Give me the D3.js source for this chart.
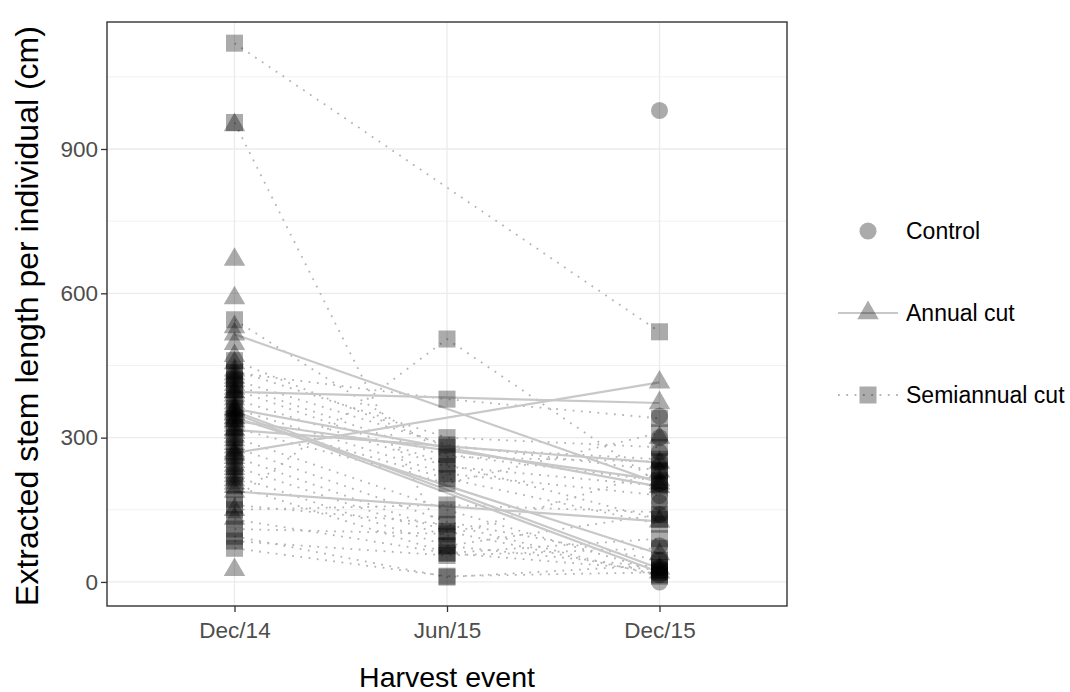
<!DOCTYPE html>
<html>
<head>
<meta charset="utf-8">
<script src="https://cdn.jsdelivr.net/npm/d3@7"></script>
<style>
  body { margin: 0; background: #fff; }
  text { font-family: "Liberation Sans", Arial, sans-serif; }
</style>
</head>
<body>
<div class="canvas"></div>
<script>
// harvest events (x categories)
const events = ["Dec/14", "Jun/15", "Dec/15"];
const yTicks = [0, 300, 600, 900];
const yMinor = [150, 450, 750, 1050];
const groups = ["Control", "Annual cut", "Semiannual cut"];

// annual cut individuals measured at both harvests: [Dec/14, Dec/15]
const annualDec14 = [515, 395, 268, 355, 350, 342, 316, 335, 188, 360];
const annualDec15 = [205, 372, 415, 28, 20, 58, 248, 212, 126, 198];
// annual cut individuals with only a Dec/14 value
const annualOnlyDec14 = [950, 670, 590, 530, 495, 470, 455, 440, 432, 425, 418, 410, 402, 395,
  388, 380, 372, 365, 358, 348, 340, 332, 325, 318, 310, 302, 295, 287, 280, 272, 265, 258,
  250, 242, 235, 228, 220, 212, 205, 198, 150, 132, 25];
// extra annual Dec/15 values without a Dec/14 record
const annualOnlyDec15 = [300, 230];

// semiannual cut individuals (null = not recorded)
const semiDec14 = [1120, 955, 172, 435, 440, 420, 410, 400, 380, 360, 340, 320, 300, 280, 260,
  240, 220, 200, 160, 130, 95, 70, 545, 460, 110, 85, 150];
const semiJun15 = [null, 75, 505, 380, 300, 285, 260, 245, 240, 225, 215, 205, 150, 125, 105,
  95, 75, 60, 120, 60, 10, 12, 265, 280, 100, 55, 160];
const semiDec15 = [520, 30, 205, 340, 280, 232, 250, 130, 200, 180, 120, 310, 22, 45, 15,
  230, 140, 25, 12, 90, 35, 20, 210, 255, null, 70, 145];

// control individuals, harvested only at Dec/15
const controlDec15 = [980, 345, 300, 270, 250, 230, 205, 180, 165, 140, 75, 45, 30, 15, 0];

const W = 1070, H = 692;
const panel = { left: 107, right: 787, top: 22, bottom: 606 };

const svg = d3.select(".canvas").append("svg")
  .attr("width", W).attr("height", H);

const x = d3.scalePoint()
  .domain(events)
  .range([panel.left, panel.right])
  .padding(0.6);

const y = d3.scaleLinear()
  .domain([-50, 1164])
  .range([panel.bottom, panel.top]);

// grid
const grid = svg.append("g");
grid.selectAll(".minor").data(yMinor).join("line")
  .attr("x1", panel.left).attr("x2", panel.right)
  .attr("y1", d => y(d)).attr("y2", d => y(d))
  .attr("stroke", "#ebebeb").attr("stroke-width", 0.7);
grid.selectAll(".major").data(yTicks).join("line")
  .attr("x1", panel.left).attr("x2", panel.right)
  .attr("y1", d => y(d)).attr("y2", d => y(d))
  .attr("stroke", "#ebebeb").attr("stroke-width", 1.3);
grid.selectAll(".vx").data(events).join("line")
  .attr("x1", d => x(d)).attr("x2", d => x(d))
  .attr("y1", panel.top).attr("y2", panel.bottom)
  .attr("stroke", "#ebebeb").attr("stroke-width", 1.3);

// lines
const line = d3.line()
  .x(d => x(d.e))
  .y(d => y(d.v));

const annualPaths = annualDec14.map((v, i) => [
  { e: "Dec/14", v: v }, { e: "Dec/15", v: annualDec15[i] }
]);
const semiPaths = semiDec14.map((v, i) => {
  const p = [{ e: "Dec/14", v: v }, { e: "Jun/15", v: semiJun15[i] }, { e: "Dec/15", v: semiDec15[i] }];
  return p.filter(d => d.v != null);
});

svg.append("g").selectAll("path").data(semiPaths).join("path")
  .attr("d", line)
  .attr("fill", "none")
  .attr("stroke", "#b4b4b4")
  .attr("stroke-width", 1.8)
  .attr("stroke-dasharray", "1.8,6.5");

svg.append("g").selectAll("path").data(annualPaths).join("path")
  .attr("d", line)
  .attr("fill", "none")
  .attr("stroke", "#c8c8c8")
  .attr("stroke-width", 2.2);

// points
const pts = [];
annualDec14.forEach(v => pts.push({ g: "Annual cut", e: "Dec/14", v }));
annualDec15.forEach(v => pts.push({ g: "Annual cut", e: "Dec/15", v }));
annualOnlyDec14.forEach(v => pts.push({ g: "Annual cut", e: "Dec/14", v }));
annualOnlyDec15.forEach(v => pts.push({ g: "Annual cut", e: "Dec/15", v }));
semiDec14.forEach(v => pts.push({ g: "Semiannual cut", e: "Dec/14", v }));
semiJun15.forEach(v => { if (v != null) pts.push({ g: "Semiannual cut", e: "Jun/15", v }); });
semiDec15.forEach(v => { if (v != null) pts.push({ g: "Semiannual cut", e: "Dec/15", v }); });
controlDec15.forEach(v => pts.push({ g: "Control", e: "Dec/15", v }));

const shapes = {
  "Control": d3.symbol(d3.symbolCircle, 230),
  "Annual cut": d3.symbol(d3.symbolTriangle, 200),
  "Semiannual cut": d3.symbol(d3.symbolSquare, 290)
};

svg.append("g").selectAll("path").data(pts).join("path")
  .attr("transform", d => `translate(${x(d.e)},${y(d.v)})`)
  .attr("d", d => shapes[d.g]())
  .attr("fill", "#000")
  .attr("fill-opacity", 0.33);

// panel border
svg.append("rect")
  .attr("x", panel.left).attr("y", panel.top)
  .attr("width", panel.right - panel.left).attr("height", panel.bottom - panel.top)
  .attr("fill", "none").attr("stroke", "#333").attr("stroke-width", 1.4);

// axes
const gx = svg.append("g")
  .attr("transform", `translate(0,${panel.bottom})`)
  .call(d3.axisBottom(x).tickSize(6).tickPadding(10));
const gy = svg.append("g")
  .attr("transform", `translate(${panel.left},0)`)
  .call(d3.axisLeft(y).tickValues(yTicks).tickSize(6).tickPadding(3));
[gx, gy].forEach(g => {
  g.select(".domain").remove();
  g.selectAll(".tick line").attr("stroke", "#333").attr("stroke-width", 1.3);
  g.selectAll(".tick text")
    .attr("fill", "#4d4d4d")
    .style("font-size", "22.5px")
    .style("font-family", "'Liberation Sans', Arial, sans-serif");
});

// axis titles
svg.append("text")
  .attr("x", (panel.left + panel.right) / 2).attr("y", 687)
  .attr("text-anchor", "middle")
  .style("font-size", "28.5px")
  .text("Harvest event");

svg.append("text")
  .attr("transform", `translate(38,${(panel.top + panel.bottom) / 2 + 2}) rotate(-90)`)
  .attr("text-anchor", "middle")
  .style("font-size", "32px")
  .text("Extracted stem length per individual (cm)");

// legend
const legend = svg.append("g").selectAll("g").data(groups).join("g")
  .attr("transform", (d, i) => `translate(868,${231 + i * 82})`);

legend.filter(d => d === "Annual cut").append("line")
  .attr("x1", -30).attr("x2", 30)
  .attr("stroke", "#c8c8c8").attr("stroke-width", 2);
legend.filter(d => d === "Semiannual cut").append("line")
  .attr("x1", -30).attr("x2", 30)
  .attr("stroke", "#b4b4b4").attr("stroke-width", 1.8)
  .attr("stroke-dasharray", "1.8,6.5");

legend.append("path")
  .attr("d", d => shapes[d]())
  .attr("fill", "#000")
  .attr("fill-opacity", 0.33);

legend.append("text")
  .attr("x", 38).attr("y", 8)
  .style("font-size", "23px")
  .text(d => d);
</script>
</body>
</html>
